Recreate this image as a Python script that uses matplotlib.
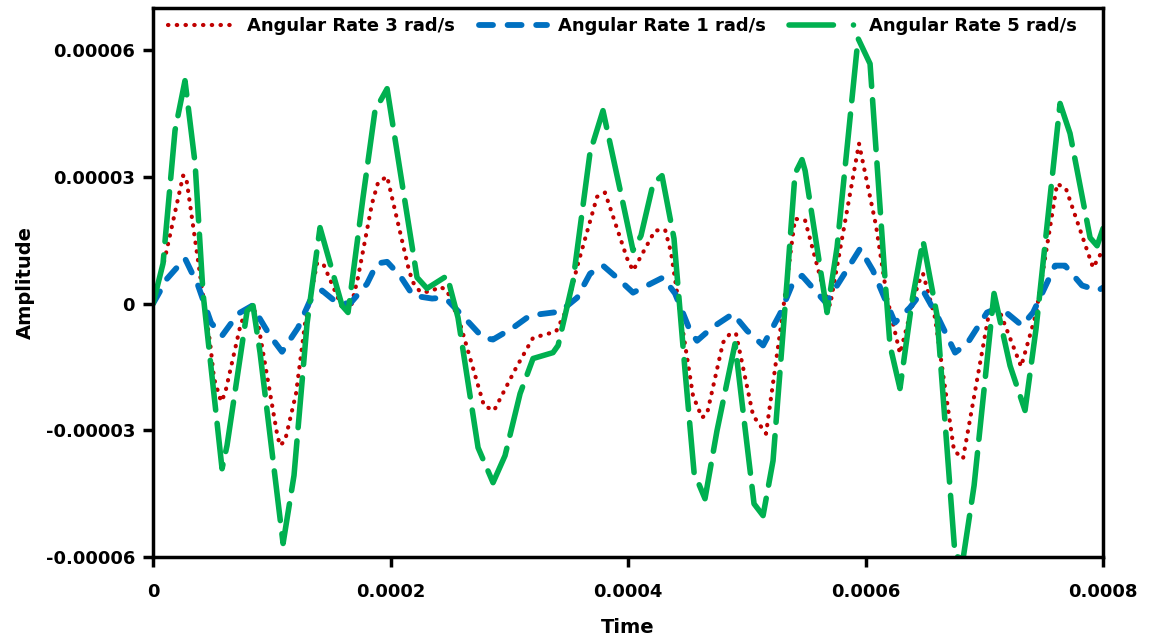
import matplotlib.pyplot as plt
from matplotlib.lines import Line2D
from matplotlib.ticker import FixedLocator

# time in microseconds, amplitude in 1e-6 units
t_red = [0, 10.1, 25.3, 27.8, 42.1, 48.0, 51.4, 57.3, 60.6, 74.1, 83.4, 87.6, 104.4, 106.9, 111.2,
         120.4, 128.0, 138.1, 143.2, 159.2, 165.9, 172.6, 184.4, 189.5, 197.1, 215.6, 219.0, 224.9,
         233.3, 241.7, 247.6, 258.5, 278.7, 287.2, 305.7, 320.0, 339.4, 347.8, 357.9, 373.9, 380.6,
         399.2, 404.2, 422.7, 431.2, 436.2, 443.8, 454.7, 462.3, 466.5, 480.0, 485.9, 490.9, 505.3,
         516.2, 528.8, 540.6, 549.1, 564.2, 570.1, 594.5, 608.8, 618.1, 629.0, 644.2, 648.4, 658.5,
         674.5, 682.1, 704.8, 713.3, 731.0, 743.6, 761.3, 768.8, 791.6, 800]
a_red = [0, 10.9, 30.3, 30.1, 1.9, -9.2, -17.8, -23.2, -21.3, -4.5, -0.2, -3.3, -30.8, -33.6, -32.4,
         -21.3, -4.7, 9.5, 9.5, -0.9, -1.7, 6.2, 23.7, 28.7, 30.1, 7.8, 5.0, 2.8,
         2.8, 4.0, 3.1, -4.7, -24.2, -25.3, -15.2, -8.1, -6.6, -1.7, 9.5, 25.3, 26.3,
         10.7, 7.8, 17.3, 17.5, 12.1, -2.1, -21.8, -27.0, -26.1, -9.2, -7.1, -7.1, -26.5,
         -30.8, -5.2, 20.1, 19.7, 3.8, -0.5, 37.9, 18.5, 1.4, -11.8, 4.7, 7.1, -3.3,
         -34.8, -36.7, -0.9, -2.1, -14.9, -2.4, 28.4, 27.2, 8.5, 12.8]

t_blue = [0, 11.8, 26.9, 37.9, 48.8, 58.1, 71.6, 83.4, 98.5, 108.6, 122.1, 132.2, 142.3, 154.9, 165.9,
          180.2, 188.6, 197.1, 208.0, 219.0, 235.0, 243.4, 248.4, 264.4, 277.9, 286.3, 303.2, 317.5,
          342.7, 357.1, 368.0, 378.9, 391.6, 404.2, 429.5, 439.6, 452.2, 458.1, 470.7, 488.4, 500.2,
          513.7, 528.0, 538.9, 546.5, 557.5, 566.7, 578.5, 595.4, 606.3, 624.8, 637.5, 648.4, 661.1,
          675.4, 685.5, 702.3, 713.3, 731.8, 741.1, 759.6, 768.0, 782.3, 795.8, 800]
a_blue = [0, 5.9, 10.7, 4.3, -4.5, -7.6, -2.4, -0.5, -7.6, -11.4, -5.7, 0.7, 3.1, 0.2, 0,
          4.7, 9.5, 9.9, 6.6, 1.9, 1.2, 1.4, 0.7, -4.0, -8.1, -8.5, -5.7, -2.8,
          -1.9, 1.4, 7.1, 9.0, 5.9, 2.6, 6.2, 2.4, -6.4, -8.8, -5.7, -2.4, -6.4,
          -9.9, -2.4, 5.0, 6.6, 3.1, 0.2, 5.4, 13.0, 7.8, -4.5, -0.9, 3.1, -3.3,
          -11.6, -9.5, -2.1, -0.9, -5.2, -2.1, 9.0, 9.0, 4.3, 3.1, 3.8]

t_green = [0, 8.4, 18.5, 26.9, 35.4, 42.1, 58.1, 62.3, 79.2, 84.2, 90.1, 109.5, 118.7, 129.7, 140.6,
           159.2, 164.2, 176.8, 186.9, 197.1, 208.0, 222.3, 230.7, 247.6, 256.8, 273.7, 286.3, 296.4,
           309.1, 320.0, 336.8, 341.1, 353.7, 368.0, 378.9, 394.9, 404.2, 410.9, 421.1, 428.6, 438.7,
           448.0, 455.6, 464.8, 474.9, 490.1, 506.1, 513.7, 522.1, 533.9, 540.6, 546.5, 549.1, 567.6,
           576.0, 593.7, 603.8, 616.4, 620.6, 629.0, 639.2, 648.4, 660.2, 675.4, 682.1, 691.4, 708.2,
           721.7, 734.3, 743.6, 763.8, 772.2, 789.1, 795.0, 800]
a_green = [0, 9.5, 41.0, 52.8, 33.2, 2.4, -39.1, -33.6, -1.7, -0.5, -11.6, -56.8, -40.7, -4.7, 18.0,
           -0.5, -2.1, 25.1, 45.7, 50.9, 31.5, 6.2, 3.6, 6.6, -3.3, -34.1, -42.4, -36.0,
           -21.3, -13.0, -11.6, -9.9, 5.4, 35.8, 45.7, 24.9, 12.6, 16.1, 28.4, 30.3, 15.4,
           -15.9, -40.0, -46.2, -30.1, -9.5, -47.4, -50.2, -37.2, 5.4, 30.8, 34.1, 31.5, -2.1,
           13.3, 62.8, 56.8, 5.9, -9.9, -20.1, 0.7, 14.9, -2.8, -59.7, -60.5, -43.1, 2.4,
           -14.7, -25.3, -5.9, 47.4, 40.3, 15.6, 13.7, 17.8]

x_ticks = [0, 0.0002, 0.0004, 0.0006, 0.0008]
x_labels = ['0', '0.0002', '0.0004', '0.0006', '0.0008']
y_ticks = [-0.00006, -0.00003, 0, 0.00003, 0.00006]
y_labels = ['-0.00006', '-0.00003', '0', '0.00003', '0.00006']

us = 1e-6

fig = plt.figure(figsize=(11.49, 6.42), dpi=100)
ax = fig.add_axes([0.1332, 0.1324, 0.8268, 0.8551])

ax.plot([t * us for t in t_red], [a * us for a in a_red], color='#C00000', lw=3,
        linestyle=(0, (0.1, 2.0)), dash_capstyle='round')
ax.plot([t * us for t in t_blue], [a * us for a in a_blue], color='#0070C0', lw=4.2,
        linestyle=(0, (2.4, 2.5)), dash_capstyle='round')
ax.plot([t * us for t in t_green], [a * us for a in a_green], color='#00B050', lw=4.0,
        linestyle=(0, (9.0, 2.4)), dash_capstyle='round')

# legend samples (green one shows the long dash + dot like the original)
handles = [
    Line2D([], [], color='#C00000', lw=3, linestyle=(0, (0.1, 2.0)), dash_capstyle='round'),
    Line2D([], [], color='#0070C0', lw=4.2, linestyle=(0, (2.4, 2.5)), dash_capstyle='round'),
    Line2D([], [], color='#00B050', lw=4.0, linestyle=(0, (8.0, 3.6, 0.01, 3.6)), dash_capstyle='round'),
]
labels = ['Angular Rate 3 rad/s', 'Angular Rate 1 rad/s', 'Angular Rate 5 rad/s']

ax.set_xlim(0, 0.0008)
ax.set_ylim(-0.00006, 0.00007)
ax.xaxis.set_major_locator(FixedLocator(x_ticks))
ax.yaxis.set_major_locator(FixedLocator(y_ticks))
ax.set_xticklabels(x_labels, fontsize=13, fontweight='bold')
ax.set_yticklabels(y_labels, fontsize=13, fontweight='bold')
ax.tick_params(direction='out', length=7, width=2.5)
ax.tick_params(axis='x', pad=12)
ax.tick_params(axis='y', pad=6)

for s in ax.spines.values():
    s.set_linewidth(2.5)

ax.set_xlabel('Time', fontsize=14, fontweight='bold', labelpad=12)
ax.set_ylabel('Amplitude', fontsize=14, fontweight='bold', labelpad=8)

ax.legend(handles, labels, loc='center', bbox_to_anchor=(0.494, 0.967), ncol=3, frameon=False,
          prop={'weight': 'bold', 'size': 13}, handlelength=3.8, columnspacing=1.3,
          handletextpad=0.6, borderaxespad=0)

fig.savefig('out.png', dpi=100)
